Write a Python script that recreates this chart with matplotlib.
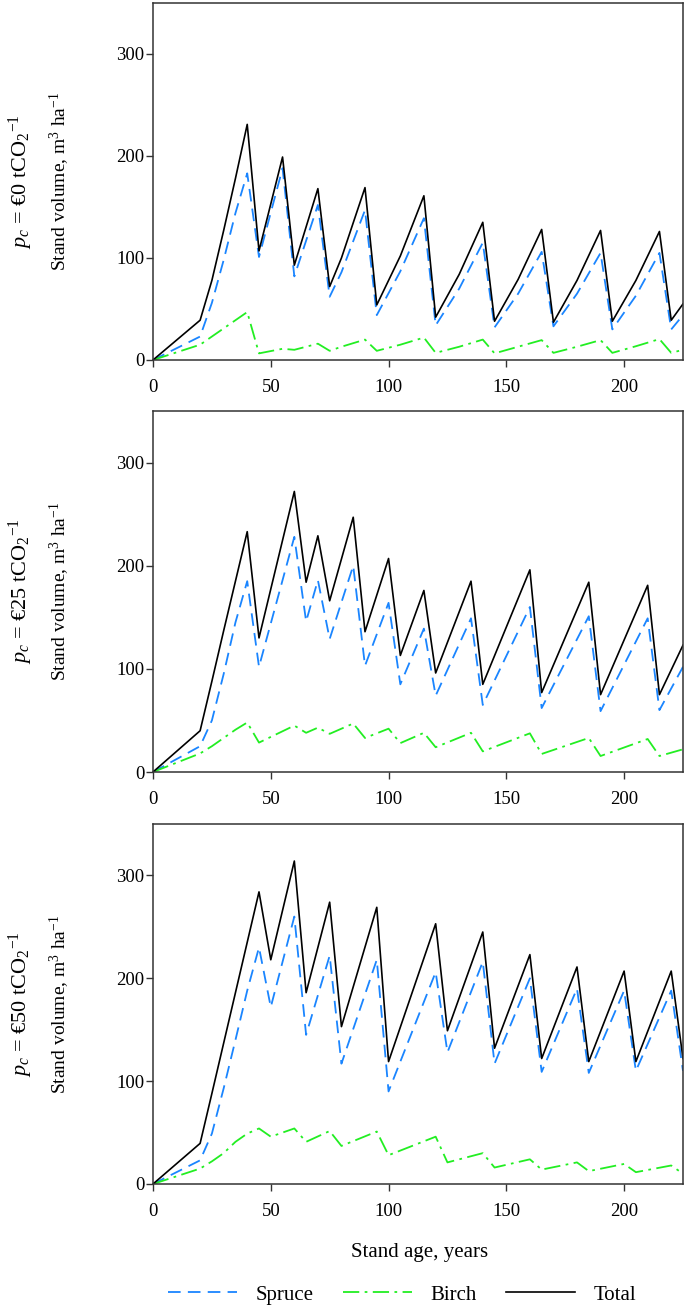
import matplotlib
matplotlib.use("Agg")
import matplotlib.pyplot as plt
from matplotlib.lines import Line2D

plt.rcParams['font.family'] = ['Liberation Serif', 'DejaVu Serif']
plt.rcParams['mathtext.fontset'] = 'custom'
plt.rcParams['mathtext.rm'] = 'Liberation Serif'
plt.rcParams['mathtext.it'] = 'Liberation Serif:italic'

# ---------------- data ----------------
age1 = [0, 20, 25, 30, 35, 40, 45, 55, 60, 70, 75, 80, 90, 95, 105, 115, 120, 130, 140,
        145, 155, 165, 170, 180, 190, 195, 205, 215, 220, 225]
total1 = [0, 39, 78, 127, 178, 231, 107, 199, 93, 168, 72, 100, 169, 54, 102, 161, 42, 84, 135,
          38, 79, 128, 37, 78, 127, 38, 78, 126, 39, 55]
spruce1 = [0, 23, 56, 98, 144, 183, 101, 188, 82, 152, 62, 86, 147, 44, 87, 139, 34, 70, 115,
           32, 65, 106, 33, 65, 105, 30, 63, 105, 30, 44]
birch1 = [0, 15, 23, 31, 39, 47, 6.5, 11, 10, 16, 9, 13, 20, 9, 15, 22, 7, 13, 20,
          6.5, 13, 19.5, 7, 13, 19.5, 7, 13.5, 20.5, 7, 10]

age2 = [0, 20, 25, 30, 35, 40, 45, 60, 65, 70, 75, 85, 90, 100, 105, 115, 120, 135, 140,
        160, 165, 185, 190, 210, 215, 225]
total2 = [0, 40, 88, 137, 185, 233, 130, 272, 184, 229, 166, 247, 136, 207, 113, 176, 96, 185, 85,
          196, 77, 184, 75, 181, 75, 123]
spruce2 = [0, 25, 50, 95, 145, 185, 102, 228, 146, 186, 129, 200, 103, 164, 85, 139, 74, 149, 65,
           160, 62, 151, 59, 149, 60, 102]
birch2 = [0, 18, 25, 33, 41, 48, 28.5, 45, 38, 43, 37, 47, 33, 42, 28, 38, 24, 38, 20,
          37.5, 17.5, 33, 15.5, 32, 15.5, 22]

age3 = [0, 20, 25, 30, 35, 40, 45, 50, 60, 65, 75, 80, 95, 100, 120, 125, 140, 145, 160,
        165, 180, 185, 200, 205, 220, 225]
total3 = [0, 39.5, 88, 137, 186, 235, 284, 218, 314, 186, 274, 153, 269, 119, 253, 149, 245, 132, 223,
          122, 211, 119, 207, 119, 207, 122]
spruce3 = [0, 23, 49, 93, 140, 188, 230, 172, 260, 145, 222, 117, 218, 90, 206, 128, 216, 117, 200,
           109, 190, 108, 188, 110, 188, 110]
birch3 = [0, 15, 22, 30, 41, 49, 54, 46, 54, 41, 51.5, 37, 51, 28, 46, 21, 30, 16, 24,
          14, 21, 12.5, 19.5, 11.5, 18, 10]

prices = ['0', '25', '50']
series_names = ['Spruce', 'Birch', 'Total']
xticks = [0, 50, 100, 150, 200]
yticks = [0, 100, 200, 300]

# ---------------- styles ----------------
W, H = 685, 1308
fig = plt.figure(figsize=(W / 100, H / 100), dpi=100)

spruce_style = dict(color='#1a85ff', lw=1.3, ls=(0, (7, 4)))
birch_style = dict(color='#22ee22', lw=1.3, ls=(0, (9, 3, 1.5, 3)))
total_style = dict(color='black', lw=1.2, ls='-')

panels = [(3, 360), (411, 772), (824, 1184)]
datasets = [(age1, spruce1, birch1, total1),
            (age2, spruce2, birch2, total2),
            (age3, spruce3, birch3, total3)]

left_px, right_px = 153, 683
for (top, bot), (ages, sp, bi, tot), price in zip(panels, datasets, prices):
    ax = fig.add_axes([left_px / W, 1 - bot / H, (right_px - left_px) / W, (bot - top) / H])
    ax.plot(ages, sp, **spruce_style)
    ax.plot(ages, bi, **birch_style)
    ax.plot(ages, tot, **total_style)
    ax.set_xlim(0, 225)
    ax.set_ylim(0, 350)
    ax.set_xticks(xticks)
    ax.set_yticks(yticks)
    ax.tick_params(axis='both', direction='out', length=5, width=1, color='#333333',
                   labelsize=13.5)
    ax.tick_params(axis='x', pad=9)
    ax.tick_params(axis='y', pad=1)
    for s in ax.spines.values():
        s.set_color('#333333')
        s.set_linewidth(1.1)
    yc = 1 - (top + bot) / 2 / H
    fig.text(21 / W, yc, r'$p_c$ = €' + price + r' tCO$_2$$^{-1}$', rotation=90,
             ha='center', va='center', fontsize=16)
    fig.text(60 / W, yc, r'Stand volume, m$^3$ ha$^{-1}$', rotation=90,
             ha='center', va='center', fontsize=14)

fig.text(420 / W, 1 - 1252 / H, 'Stand age, years', ha='center', va='center', fontsize=15)

handles = [Line2D([], [], **spruce_style), Line2D([], [], **birch_style),
           Line2D([], [], **total_style)]
fig.legend(handles, series_names, loc='center', bbox_to_anchor=(402 / W, 1 - 1295 / H),
           ncol=3, frameon=False, fontsize=15, handlelength=3.3, handletextpad=0.9,
           columnspacing=1.4)

fig.savefig('out.png', dpi=100)
